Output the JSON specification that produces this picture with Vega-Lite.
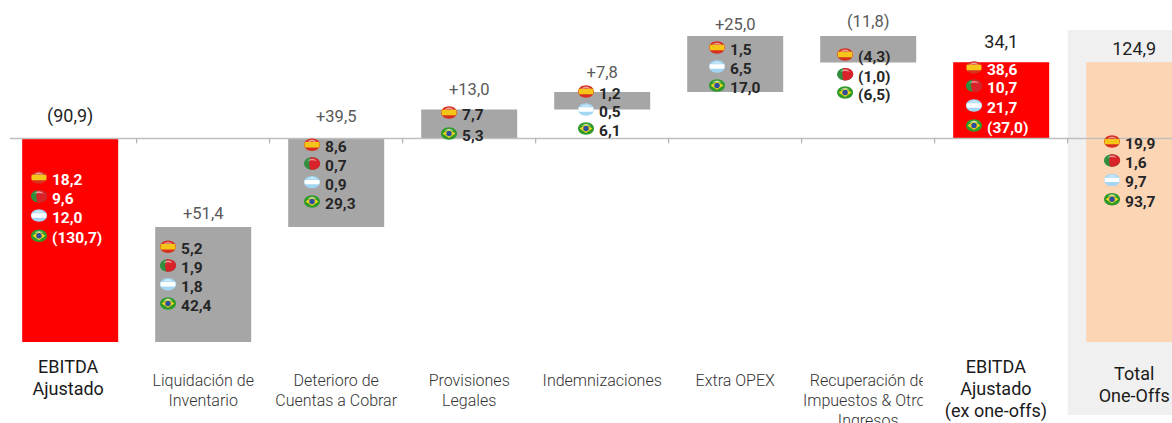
{
"$schema":"https://vega.github.io/schema/vega-lite/v6.json",
"width":1172,"height":423,"padding":0,
"autosize":{"type":"none"},
"background":"white",
"config":{"view":{"stroke":null},"scale":{"continuousPadding":0}},
"datasets":{
"barras":[
{"pos":0,"concepto":"EBITDA Ajustado","tipo":"total","desde":0,"hasta":-90.9,"rotulo":"(90,9)","y_rotulo":9.6,"destacado":true},
{"pos":1,"concepto":"Liquidación de Inventario","tipo":"ajuste","desde":-90.9,"hasta":-39.5,"rotulo":"+51,4","y_rotulo":-33.7,"destacado":false},
{"pos":2,"concepto":"Deterioro de Cuentas a Cobrar","tipo":"ajuste","desde":-39.5,"hasta":0,"rotulo":"+39,5","y_rotulo":9.6,"destacado":false},
{"pos":3,"concepto":"Provisiones Legales","tipo":"ajuste","desde":0,"hasta":13,"rotulo":"+13,0","y_rotulo":21.7,"destacado":false},
{"pos":4,"concepto":"Indemnizaciones","tipo":"ajuste","desde":13,"hasta":20.8,"rotulo":"+7,8","y_rotulo":29.3,"destacado":false},
{"pos":5,"concepto":"Extra OPEX","tipo":"ajuste","desde":20.8,"hasta":45.8,"rotulo":"+25,0","y_rotulo":50.7,"destacado":false},
{"pos":6,"concepto":"Recuperación de Impuestos & Otros Ingresos","tipo":"ajuste","desde":45.8,"hasta":34,"rotulo":"(11,8)","y_rotulo":52,"destacado":false},
{"pos":7,"concepto":"EBITDA Ajustado (ex one-offs)","tipo":"total","desde":0,"hasta":34.1,"rotulo":"34,1","y_rotulo":42.7,"destacado":true},
{"pos":8,"concepto":"Total One-Offs","tipo":"oneoff","desde":34.1,"hasta":-90.9,"rotulo":"124,9","y_rotulo":39.5,"destacado":true}
],
"separadores":[{"x":0.5},{"x":1.5},{"x":2.5},{"x":3.5},{"x":4.5},{"x":5.5},{"x":6.5},{"x":7.5}],
"etiquetas":[
{"x":-0.015,"y":-102.5,"lineas":["EBITDA","Ajustado"],"destacado":true},
{"x":1,"y":-108.3,"lineas":["Liquidación de","Inventario"],"destacado":false},
{"x":2,"y":-108.3,"lineas":["Deterioro de","Cuentas a Cobrar"],"destacado":false},
{"x":3,"y":-108.3,"lineas":["Provisiones","Legales"],"destacado":false},
{"x":4,"y":-108.3,"lineas":["Indemnizaciones"],"destacado":false},
{"x":5,"y":-108.3,"lineas":["Extra OPEX"],"destacado":false},
{"x":6,"y":-108.3,"lineas":["Recuperación de","Impuestos & Otros","Ingresos"],"destacado":false},
{"x":6.96,"y":-102.5,"lineas":["EBITDA","Ajustado","(ex one-offs)"],"destacado":true},
{"x":8,"y":-105.6,"lineas":["Total","One-Offs"],"destacado":true}
],
"detalle":[
{"pos":0,"pais":"ES","texto":"18,2","x":-0.137,"y":-18.5},
{"pos":0,"pais":"PT","texto":"9,6","x":-0.137,"y":-26.9},
{"pos":0,"pais":"AR","texto":"12,0","x":-0.137,"y":-35.5},
{"pos":0,"pais":"BR","texto":"(130,7)","x":-0.137,"y":-44.6},
{"pos":1,"pais":"ES","texto":"5,2","x":0.833,"y":-49.5},
{"pos":1,"pais":"PT","texto":"1,9","x":0.833,"y":-57.8},
{"pos":1,"pais":"AR","texto":"1,8","x":0.833,"y":-66.2},
{"pos":1,"pais":"BR","texto":"42,4","x":0.833,"y":-74.8},
{"pos":2,"pais":"ES","texto":"8,6","x":1.916,"y":-3.9},
{"pos":2,"pais":"PT","texto":"0,7","x":1.916,"y":-12.3},
{"pos":2,"pais":"AR","texto":"0,9","x":1.916,"y":-20.6},
{"pos":2,"pais":"BR","texto":"29,3","x":1.916,"y":-29.3},
{"pos":3,"pais":"ES","texto":"7,7","x":2.946,"y":10.5},
{"pos":3,"pais":"BR","texto":"5,3","x":2.946,"y":1.1},
{"pos":4,"pais":"ES","texto":"1,2","x":3.976,"y":19.9},
{"pos":4,"pais":"AR","texto":"0,5","x":3.976,"y":11.8},
{"pos":4,"pais":"BR","texto":"6,1","x":3.976,"y":3.3},
{"pos":5,"pais":"ES","texto":"1,5","x":4.961,"y":39.5},
{"pos":5,"pais":"AR","texto":"6,5","x":4.961,"y":31},
{"pos":5,"pais":"BR","texto":"17,0","x":4.961,"y":22.6},
{"pos":6,"pais":"ES","texto":"(4,3)","x":5.924,"y":36.4},
{"pos":6,"pais":"PT","texto":"(1,0)","x":5.924,"y":27.6},
{"pos":6,"pais":"BR","texto":"(6,5)","x":5.924,"y":19.4},
{"pos":7,"pais":"ES","texto":"38,6","x":6.893,"y":30.6},
{"pos":7,"pais":"PT","texto":"10,7","x":6.893,"y":22.4},
{"pos":7,"pais":"AR","texto":"21,7","x":6.893,"y":13.6},
{"pos":7,"pais":"BR","texto":"(37,0)","x":6.893,"y":4.7},
{"pos":8,"pais":"ES","texto":"19,9","x":7.931,"y":-2.5},
{"pos":8,"pais":"PT","texto":"1,6","x":7.931,"y":-10.9},
{"pos":8,"pais":"AR","texto":"9,7","x":7.931,"y":-19.6},
{"pos":8,"pais":"BR","texto":"93,7","x":7.931,"y":-28.2}
]
},
"layer":[
{"data":{"values":[{}]},"mark":{"type":"rect","color":"#f0f0f0"},
 "encoding":{
  "x":{"datum":7.5,"type":"quantitative","scale":{"domain":[-0.5278,8.2842],"nice":false,"zero":false},"axis":null},
  "x2":{"datum":8.2842},
  "y":{"datum":48.5,"type":"quantitative","scale":{"domain":[-127.07,61.86],"nice":false,"zero":false},"axis":null},
  "y2":{"datum":-123.5}}},
{"data":{"name":"barras"},"mark":{"type":"bar","size":96,"clip":true},
 "encoding":{
  "x":{"field":"pos","type":"quantitative","scale":{"domain":[-0.5278,8.2842],"nice":false,"zero":false},"axis":null},
  "y":{"field":"desde","type":"quantitative","scale":{"domain":[-127.07,61.86],"nice":false,"zero":false},"axis":null},
  "y2":{"field":"hasta"},
  "color":{"field":"tipo","type":"nominal","scale":{"domain":["total","ajuste","oneoff"],"range":["#ff0000","#a6a6a6","#fcd5b5"]},"legend":null}}},
{"data":{"values":[{}]},"mark":{"type":"rule","color":"#bfbfbf","strokeWidth":1.5},
 "encoding":{
  "x":{"datum":-0.4526,"type":"quantitative","scale":{"domain":[-0.5278,8.2842],"nice":false,"zero":false},"axis":null},
  "x2":{"datum":8.2842},
  "y":{"datum":0,"type":"quantitative","scale":{"domain":[-127.07,61.86],"nice":false,"zero":false},"axis":null}}},
{"data":{"name":"separadores"},"mark":{"type":"rule","color":"#a6a6a6","strokeWidth":1},
 "encoding":{
  "x":{"field":"x","type":"quantitative","scale":{"domain":[-0.5278,8.2842],"nice":false,"zero":false},"axis":null},
  "y":{"datum":0,"type":"quantitative","scale":{"domain":[-127.07,61.86],"nice":false,"zero":false},"axis":null},
  "y2":{"datum":-2.2}}},
{"data":{"name":"barras"},"mark":{"type":"text","font":"Roboto","baseline":"middle","align":"center"},
 "encoding":{
  "x":{"field":"pos","type":"quantitative","scale":{"domain":[-0.5278,8.2842],"nice":false,"zero":false},"axis":null},
  "y":{"field":"y_rotulo","type":"quantitative","scale":{"domain":[-127.07,61.86],"nice":false,"zero":false},"axis":null},
  "text":{"field":"rotulo"},
  "size":{"condition":{"test":"datum.destacado","value":18},"value":16.5},
  "color":{"condition":{"test":"datum.destacado","value":"#1f1f1f"},"value":"#595959"}}},
{"data":{"name":"detalle"},"mark":{"type":"point","filled":true,"opacity":1,"size":256,"xOffset":-13,"yOffset":-2.5,"shape":"M-1,0A1,0.78,0,1,1,1,0A1,0.78,0,1,1,-1,0Z"},
 "encoding":{
  "x":{"field":"x","type":"quantitative","scale":{"domain":[-0.5278,8.2842],"nice":false,"zero":false},"axis":null},
  "y":{"field":"y","type":"quantitative","scale":{"domain":[-127.07,61.86],"nice":false,"zero":false},"axis":null},
  "color":{"field":"pais","type":"nominal","scale":{"domain":["ES","PT","AR","BR"],"range":["#d8301f","#2f8f3f","#a3d6f2","#2f9a2a"]},"legend":null}}},
{"data":{"name":"detalle"},"mark":{"type":"point","filled":true,"opacity":1,"size":256,"xOffset":-13,"yOffset":-2.5},
 "encoding":{
  "x":{"field":"x","type":"quantitative","scale":{"domain":[-0.5278,8.2842],"nice":false,"zero":false},"axis":null},
  "y":{"field":"y","type":"quantitative","scale":{"domain":[-127.07,61.86],"nice":false,"zero":false},"axis":null},
  "color":{"field":"pais","type":"nominal","scale":{"domain":["ES","PT","AR","BR"],"range":["#f5c518","#d8232a","#ffffff","#f0d520"]},"legend":null},
  "shape":{"field":"pais","type":"nominal","scale":{"domain":["ES","PT","AR","BR"],"range":["M-0.9,-0.34L0.9,-0.34Q1,0,0.9,0.34L-0.9,0.34Q-1,0,-0.9,-0.34Z","M-0.25,-0.75A1,0.78,0,1,1,-0.25,0.75Q-0.45,0,-0.25,-0.75Z","M-0.9,-0.28L0.9,-0.28Q1,0,0.9,0.28L-0.9,0.28Q-1,0,-0.9,-0.28Z","M-0.8,0L0,-0.55L0.8,0L0,0.55Z"]},"legend":null}}},
{"data":{"name":"detalle"},"transform":[{"filter":"datum.pais==='BR'"}],"mark":{"type":"point","filled":true,"opacity":1,"size":30,"color":"#2b4f9e","xOffset":-13,"yOffset":-2.5,"shape":"circle"},
 "encoding":{
  "x":{"field":"x","type":"quantitative","scale":{"domain":[-0.5278,8.2842],"nice":false,"zero":false},"axis":null},
  "y":{"field":"y","type":"quantitative","scale":{"domain":[-127.07,61.86],"nice":false,"zero":false},"axis":null}}},
{"data":{"name":"detalle"},"mark":{"type":"point","filled":true,"opacity":0.55,"size":256,"color":"#ffffff","xOffset":-13,"yOffset":-2.5,"shape":"M-0.6,-0.32Q0,-0.9,0.6,-0.32Q0,-0.5,-0.6,-0.32Z"},
 "encoding":{
  "x":{"field":"x","type":"quantitative","scale":{"domain":[-0.5278,8.2842],"nice":false,"zero":false},"axis":null},
  "y":{"field":"y","type":"quantitative","scale":{"domain":[-127.07,61.86],"nice":false,"zero":false},"axis":null}}},
{"data":{"name":"detalle"},"mark":{"type":"text","font":"Roboto","fontWeight":"bold","fontSize":15.5,"align":"left","baseline":"middle"},
 "encoding":{
  "x":{"field":"x","type":"quantitative","scale":{"domain":[-0.5278,8.2842],"nice":false,"zero":false},"axis":null},
  "y":{"field":"y","type":"quantitative","scale":{"domain":[-127.07,61.86],"nice":false,"zero":false},"axis":null},
  "text":{"field":"texto"},
  "color":{"condition":{"test":"datum.pos===0||datum.pos===7","value":"#ffffff"},"value":"#262626"}}},
{"data":{"name":"etiquetas"},"transform":[{"filter":"datum.destacado"}],"mark":{"type":"text","font":"Roboto","fontSize":18,"lineHeight":22,"align":"center","baseline":"middle","color":"#1a1a1a"},
 "encoding":{
  "x":{"field":"x","type":"quantitative","scale":{"domain":[-0.5278,8.2842],"nice":false,"zero":false},"axis":null},
  "y":{"field":"y","type":"quantitative","scale":{"domain":[-127.07,61.86],"nice":false,"zero":false},"axis":null},
  "text":{"field":"lineas"}}},
{"data":{"name":"etiquetas"},"transform":[{"filter":"!datum.destacado"}],"mark":{"type":"text","font":"Roboto","fontWeight":300,"fontSize":16,"lineHeight":20,"align":"center","baseline":"middle","color":"#333333"},
 "encoding":{
  "x":{"field":"x","type":"quantitative","scale":{"domain":[-0.5278,8.2842],"nice":false,"zero":false},"axis":null},
  "y":{"field":"y","type":"quantitative","scale":{"domain":[-127.07,61.86],"nice":false,"zero":false},"axis":null},
  "text":{"field":"lineas"}}},
{"data":{"values":[{}]},"mark":{"type":"rect","color":"#ffffff"},
 "encoding":{
  "x":{"datum":6.41,"type":"quantitative","scale":{"domain":[-0.5278,8.2842],"nice":false,"zero":false},"axis":null},
  "x2":{"datum":6.54},
  "y":{"datum":-103,"type":"quantitative","scale":{"domain":[-127.07,61.86],"nice":false,"zero":false},"axis":null},
  "y2":{"datum":-127}}}
],
"resolve":{"scale":{"color":"independent","shape":"independent"}}
}
